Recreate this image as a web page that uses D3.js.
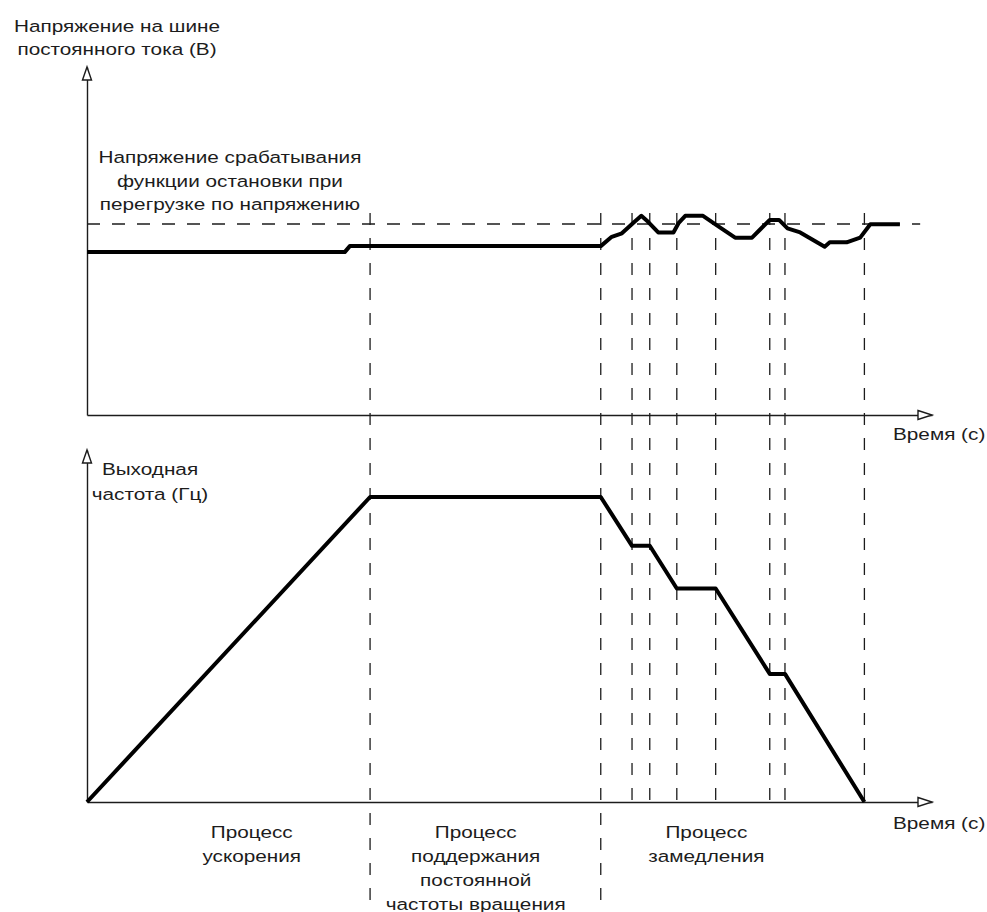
<!DOCTYPE html>
<html><head><meta charset="utf-8">
<script src="https://cdn.jsdelivr.net/npm/d3@7"></script>
<style>html,body{margin:0;padding:0;background:#fff;}svg{display:block;}</style>
</head><body>
<svg id="chart" width="987" height="912"></svg>
<script>
// ---- data ----
const markerTimes = [33.5, 60.8, 64.5, 66.6, 69.8, 74.4, 80.8, 82.6, 92.0];
const longMarkers = [33.5, 60.8];
const freqTime = [0, 33.5, 60.8, 64.5, 66.6, 69.8, 74.4, 80.8, 82.6, 92.0];
const freqValue = [0, 50, 50, 42, 42, 35, 35, 21, 21, 0];
const voltTime = [0, 30.5, 31.1, 60.8, 62.1, 63.3, 64.6, 65.6, 66.4, 67.6, 69.4, 70.0, 70.8, 72.9, 74.5, 76.7, 78.7, 79.6, 80.8, 81.9, 82.9, 84.4, 87.3, 87.9, 89.9, 91.5, 92.7, 96.2];
const voltValue = [597, 597, 619, 619, 653, 666, 703, 730, 708, 669, 669, 703, 730, 730, 696, 650, 650, 678, 715, 715, 684, 669, 617, 633, 633, 650, 699, 699];
const thresholdV = 700;
const thresholdSpan = [0, 98.6];
const labelVoltAxis = ["Напряжение на шине", "постоянного тока (В)"];
const labelThreshold = ["Напряжение срабатывания", "функции остановки при", "перегрузке по напряжению"];
const labelFreqAxis = ["Выходная", "частота (Гц)"];
const labelTime = "Время (с)";
const processLabels = [
  {t: 19.5, lines: ["Процесс", "ускорения"]},
  {t: 46.0, lines: ["Процесс", "поддержания", "постоянной", "частоты вращения"]},
  {t: 73.3, lines: ["Процесс", "замедления"]}
];

// ---- layout ----
const svg = d3.select("#chart");
const X0 = 87, XEND = 932;
const topAxisY = 415, botAxisY = 802;
const x = d3.scaleLinear().domain([0, 100]).range([X0, XEND]);
const yV = d3.scaleLinear().domain([0, thresholdV]).range([topAxisY, 224]);
const yF = d3.scaleLinear().domain([0, 50]).range([botAxisY, 497]);
const ink = "#1c1c1c";
const SX = 1.22, FS = 17;

function text(lines, cx, y0, lh, anchor) {
  lines.forEach((s, i) => {
    svg.append("text")
      .attr("transform", `translate(${cx},${y0 + i * lh}) scale(${SX},1)`)
      .attr("text-anchor", anchor || "middle")
      .attr("font-family", "'Liberation Sans', Arial, sans-serif")
      .attr("font-size", FS)
      .attr("fill", ink)
      .text(s);
  });
}

// dashed vertical markers
markerTimes.forEach(t => {
  svg.append("line")
    .attr("x1", x(t)).attr("x2", x(t))
    .attr("y1", 213).attr("y2", longMarkers.includes(t) ? 912 : botAxisY)
    .attr("stroke", ink).attr("stroke-width", 1.3)
    .attr("stroke-dasharray", "12,13");
});

// threshold dashed line
svg.append("line")
  .attr("x1", x(thresholdSpan[0])).attr("x2", x(thresholdSpan[1]))
  .attr("y1", yV(thresholdV)).attr("y2", yV(thresholdV))
  .attr("stroke", ink).attr("stroke-width", 1.3)
  .attr("stroke-dasharray", "13,12");

// axes
function axes(baseY, topY) {
  const xa = d3.axisBottom(x).tickValues([]).tickSizeOuter(0);
  svg.append("g").attr("transform", `translate(0,${baseY})`).call(xa)
    .select(".domain").attr("stroke", ink).attr("stroke-width", 1.4);
  const ya = d3.axisLeft(d3.scaleLinear().domain([0, 1]).range([baseY, topY])).tickValues([]).tickSizeOuter(0);
  svg.append("g").attr("transform", `translate(${X0},0)`).call(ya)
    .select(".domain").attr("stroke", ink).attr("stroke-width", 1.4);
  svg.append("path")
    .attr("d", `M${XEND - 14},${baseY - 4.5}L${XEND},${baseY}L${XEND - 14},${baseY + 4.5}Z`)
    .attr("fill", "#fff").attr("stroke", ink).attr("stroke-width", 1.4);
  svg.append("path")
    .attr("d", `M${X0 - 4.5},${topY + 13}L${X0},${topY}L${X0 + 4.5},${topY + 13}Z`)
    .attr("fill", "#fff").attr("stroke", ink).attr("stroke-width", 1.4);
}
axes(topAxisY, 67);
axes(botAxisY, 450);

// series
const line = d3.line().curve(d3.curveLinear);
svg.append("path")
  .attr("d", line(voltTime.map((t, i) => [x(t), yV(voltValue[i])])))
  .attr("fill", "none").attr("stroke", "#000").attr("stroke-width", 4)
  .attr("stroke-linejoin", "round");
svg.append("path")
  .attr("d", line(freqTime.map((t, i) => [x(t), yF(freqValue[i])])))
  .attr("fill", "none").attr("stroke", "#000").attr("stroke-width", 4)
  .attr("stroke-linejoin", "round");

// labels
text(labelVoltAxis, 117, 32, 23);
text(labelThreshold, 230, 163, 23.5);
text(labelFreqAxis, 150, 475, 25);
text([labelTime], 893, 440, 0, "start");
text([labelTime], 893, 829, 0, "start");
processLabels.forEach(p => text(p.lines, x(p.t), 838, 24));
</script>
</body></html>
